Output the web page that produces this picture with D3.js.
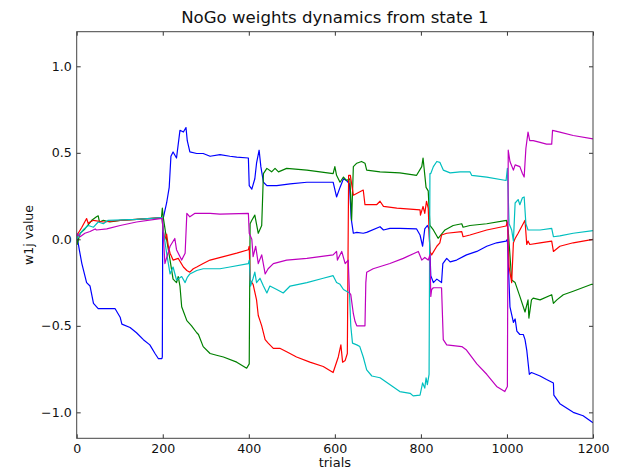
<!DOCTYPE html>
<html>
<head>
<meta charset="utf-8">
<script src="https://cdn.jsdelivr.net/npm/d3@7"></script>
<style>
  body { margin: 0; background: #fff; }
  text { font-family: "DejaVu Sans", sans-serif; }
</style>
</head>
<body>
<div id="my_dataviz"></div>
<script>

// tick values
var xTicks = [0, 200, 400, 600, 800, 1000, 1200];
var yTicks = [-1.0, -0.5, 0.0, 0.5, 1.0];

// series, [trial, w1j value]
var blue = [[0,0.03],[6,-0.06],[12,-0.14],[23,-0.25],[31,-0.27],[39,-0.37],[50,-0.40],[81,-0.40],[89,-0.40],[101,-0.45],[105,-0.49],[124,-0.51],[139,-0.54],[155,-0.58],[170,-0.61],[182,-0.66],[190,-0.69],[198,-0.69],[199,-0.68],[200,0.11],[209,0.21],[215,0.30],[219,0.48],[224,0.505],[232,0.47],[240,0.63],[248,0.62],[254,0.646],[257,0.57],[263,0.505],[279,0.496],[294,0.496],[310,0.48],[333,0.49],[356,0.48],[372,0.475],[399,0.47],[401,0.31],[407,0.29],[414,0.35],[418,0.44],[424,0.515],[428,0.42],[434,0.33],[442,0.31],[465,0.31],[496,0.32],[535,0.33],[596,0.33],[604,0.245],[612,0.30],[620,0.35],[627,0.34],[634,0.32],[638,0.12],[643,0.035],[651,0.04],[666,0.035],[674,0.04],[705,0.073],[713,0.054],[728,0.063],[751,0.063],[790,0.06],[798,0.025],[804,-0.04],[809,0.06],[815,0.08],[819,0.06],[823,-0.21],[829,-0.25],[837,-0.23],[848,-0.25],[851,-0.14],[860,-0.11],[868,-0.13],[883,-0.12],[906,-0.09],[930,-0.07],[953,-0.04],[976,-0.02],[998,-0.01],[1001,0.0],[1007,-0.39],[1015,-0.48],[1019,-0.46],[1023,-0.53],[1030,-0.55],[1038,-0.55],[1042,-0.58],[1046,-0.64],[1052,-0.78],[1057,-0.77],[1077,-0.79],[1092,-0.81],[1108,-0.83],[1109,-0.90],[1123,-0.95],[1154,-1.00],[1177,-1.02],[1200,-1.06]];

var green = [[0,0.0],[1,-0.03],[8,0.035],[19,0.06],[35,0.11],[46,0.13],[50,0.136],[53,0.10],[62,0.11],[77,0.10],[101,0.11],[139,0.115],[170,0.12],[197,0.125],[199,0.18],[201,0.13],[209,0.0],[217,-0.12],[224,-0.23],[232,-0.25],[236,-0.215],[240,-0.27],[244,-0.39],[256,-0.47],[267,-0.50],[279,-0.54],[283,-0.55],[294,-0.62],[310,-0.66],[325,-0.67],[341,-0.68],[372,-0.71],[395,-0.745],[401,-0.72],[403,0.09],[407,0.11],[414,0.14],[422,0.035],[430,0.08],[434,0.38],[442,0.41],[453,0.39],[461,0.41],[469,0.39],[488,0.41],[535,0.40],[596,0.38],[600,0.42],[604,0.37],[612,0.33],[620,0.36],[627,0.34],[635,0.35],[639,0.11],[643,0.42],[651,0.44],[662,0.45],[670,0.44],[674,0.40],[705,0.39],[751,0.384],[790,0.37],[802,0.42],[805,0.47],[812,0.30],[817,0.28],[821,0.08],[829,0.054],[840,0.006],[848,0.03],[856,0.054],[875,0.08],[895,0.09],[898,0.07],[914,0.08],[953,0.09],[999,0.11],[1003,0.05],[1011,-0.235],[1019,-0.25],[1030,-0.33],[1042,-0.42],[1049,-0.35],[1051,-0.455],[1057,-0.35],[1061,-0.34],[1077,-0.35],[1104,-0.32],[1108,-0.37],[1116,-0.35],[1131,-0.32],[1154,-0.30],[1197,-0.26],[1200,-0.26]];

var red = [[0,0.0],[1,0.025],[12,0.07],[23,0.12],[27,0.09],[31,0.10],[39,0.11],[62,0.10],[101,0.11],[139,0.115],[198,0.125],[201,0.054],[205,0.0],[209,0.03],[213,-0.04],[217,-0.08],[224,-0.12],[236,-0.11],[248,-0.16],[256,-0.18],[263,-0.19],[271,-0.17],[279,-0.16],[294,-0.14],[310,-0.12],[341,-0.10],[372,-0.08],[399,-0.06],[401,-0.04],[403,-0.235],[410,-0.26],[418,-0.35],[422,-0.44],[426,-0.47],[430,-0.50],[438,-0.58],[445,-0.60],[457,-0.63],[472,-0.63],[488,-0.65],[511,-0.68],[542,-0.71],[573,-0.735],[596,-0.77],[608,-0.68],[614,-0.61],[618,-0.71],[624,-0.70],[629,-0.66],[632,0.37],[636,0.37],[643,0.255],[666,0.285],[670,0.20],[697,0.20],[705,0.22],[713,0.19],[744,0.18],[798,0.17],[799,0.14],[805,0.19],[809,0.15],[813,0.22],[817,0.18],[821,-0.07],[825,-0.09],[837,-0.04],[844,-0.02],[848,0.025],[860,0.035],[895,0.044],[898,0.015],[914,0.025],[953,0.054],[998,0.077],[1001,0.10],[1005,-0.16],[1011,-0.25],[1015,-0.02],[1019,0.005],[1026,0.035],[1042,0.11],[1046,-0.03],[1049,-0.01],[1053,-0.03],[1077,-0.02],[1104,-0.01],[1108,-0.07],[1123,-0.04],[1154,-0.02],[1200,0.0]];

var cyan = [[0,0.0],[3,0.015],[15,0.055],[27,0.08],[39,0.07],[50,0.10],[62,0.09],[73,0.11],[139,0.115],[198,0.125],[201,0.054],[209,-0.08],[217,-0.20],[224,-0.16],[232,-0.235],[244,-0.215],[252,-0.25],[257,-0.22],[263,-0.20],[279,-0.18],[294,-0.17],[333,-0.17],[356,-0.16],[399,-0.14],[401,-0.12],[404,-0.27],[410,-0.225],[414,-0.19],[418,-0.25],[426,-0.225],[434,-0.27],[442,-0.31],[449,-0.27],[465,-0.29],[480,-0.31],[496,-0.27],[535,-0.25],[573,-0.225],[596,-0.21],[604,-0.25],[612,-0.26],[620,-0.29],[627,-0.30],[634,-0.31],[637,-0.50],[641,-0.60],[651,-0.61],[658,-0.62],[666,-0.68],[674,-0.755],[686,-0.79],[705,-0.80],[751,-0.88],[775,-0.89],[782,-0.905],[798,-0.90],[804,-0.83],[809,-0.86],[812,-0.80],[815,-0.84],[819,-0.78],[821,0.38],[823,0.38],[829,0.42],[837,0.45],[844,0.445],[852,0.40],[868,0.384],[891,0.39],[914,0.39],[918,0.37],[953,0.36],[998,0.34],[1001,0.41],[1005,0.09],[1011,0.054],[1015,-0.01],[1019,0.21],[1026,0.23],[1030,0.20],[1036,0.24],[1040,0.245],[1044,0.09],[1049,0.054],[1077,0.054],[1104,0.063],[1108,0.015],[1123,0.02],[1154,0.035],[1200,0.05]];

var magenta = [[0,0.02],[1,0.035],[8,0.015],[19,0.035],[31,0.045],[43,0.06],[46,0.054],[70,0.06],[101,0.08],[139,0.10],[194,0.12],[199,0.12],[205,-0.14],[217,-0.04],[228,0.005],[232,-0.06],[244,-0.12],[252,-0.08],[256,0.15],[263,0.13],[275,0.15],[310,0.15],[333,0.146],[399,0.15],[401,0.035],[407,0.0],[410,-0.10],[416,-0.04],[422,-0.14],[430,-0.09],[438,-0.20],[445,-0.17],[457,-0.14],[488,-0.12],[535,-0.11],[596,-0.09],[604,-0.07],[606,-0.12],[616,-0.07],[624,-0.14],[631,-0.12],[634,-0.31],[637,-0.32],[643,-0.43],[647,-0.475],[651,-0.50],[670,-0.50],[672,-0.25],[674,-0.19],[689,-0.17],[728,-0.14],[759,-0.11],[794,-0.07],[802,-0.12],[809,-0.105],[817,-0.12],[821,-0.09],[823,-0.33],[825,-0.29],[829,-0.28],[848,-0.28],[852,-0.58],[860,-0.61],[895,-0.62],[906,-0.64],[930,-0.72],[953,-0.78],[976,-0.85],[995,-0.88],[1001,-0.85],[1003,0.515],[1007,0.45],[1015,0.40],[1019,0.43],[1030,0.42],[1036,0.38],[1040,0.36],[1044,0.525],[1049,0.62],[1053,0.57],[1061,0.57],[1077,0.56],[1092,0.55],[1104,0.55],[1106,0.63],[1123,0.62],[1154,0.60],[1200,0.58]];

var series = [
  {name: "b", color: "#0000ff", values: blue},
  {name: "g", color: "#008000", values: green},
  {name: "r", color: "#ff0000", values: red},
  {name: "c", color: "#00bfbf", values: cyan},
  {name: "m", color: "#bf00bf", values: magenta}
];

// set the dimensions and margins of the graph
var margin = {top: 31.7, right: 32, bottom: 32.7, left: 76.7},
    width = 625 - margin.left - margin.right,
    height = 471 - margin.top - margin.bottom;

var svg = d3.select("#my_dataviz")
  .append("svg")
    .attr("width", 625)
    .attr("height", 471)
  .append("g")
    .attr("transform", "translate(" + margin.left + "," + margin.top + ")");

var x = d3.scaleLinear().domain([0, 1200]).range([0, width]);
var y = d3.scaleLinear().domain([-1.15, 1.2]).range([height, 0]);

// lines
var line = d3.line()
  .x(function(d) { return x(d[0]); })
  .y(function(d) { return y(d[1]); });

svg.append("defs").append("clipPath").attr("id", "clip")
  .append("rect").attr("width", width).attr("height", height);

svg.append("g").attr("clip-path", "url(#clip)")
  .selectAll("path")
  .data(series)
  .enter()
  .append("path")
    .attr("d", function(d) { return line(d.values); })
    .attr("fill", "none")
    .attr("stroke", function(d) { return d.color; })
    .attr("stroke-width", 1.2)
    .attr("stroke-linejoin", "round");

// axes, ticks pointing inward on all four sides
var fmtY = d3.format(".1f");
var fmtX = d3.format("d");

svg.append("g")
  .attr("transform", "translate(0," + height + ")")
  .call(d3.axisBottom(x).tickValues(xTicks).tickSizeInner(-4).tickSizeOuter(0).tickPadding(6).tickFormat(fmtX));
svg.append("g")
  .call(d3.axisTop(x).tickValues(xTicks).tickSizeInner(-4).tickSizeOuter(0).tickFormat(""));
svg.append("g")
  .call(d3.axisLeft(y).tickValues(yTicks).tickSizeInner(-4).tickSizeOuter(0).tickPadding(5).tickFormat(fmtY));
svg.append("g")
  .attr("transform", "translate(" + width + ",0)")
  .call(d3.axisRight(y).tickValues(yTicks).tickSizeInner(-4).tickSizeOuter(0).tickFormat(""));

svg.selectAll(".domain").remove();
svg.selectAll(".tick line").attr("stroke", "#333");
svg.selectAll(".tick text").attr("font-size", 12.6).attr("fill", "#111")
  .attr("font-family", "DejaVu Sans, sans-serif");

svg.append("rect")
  .attr("width", width)
  .attr("height", height)
  .attr("fill", "none")
  .attr("stroke", "#444")
  .attr("stroke-width", 1);

// title and labels
svg.append("text")
  .attr("x", width / 2)
  .attr("y", -9)
  .attr("text-anchor", "middle")
  .attr("font-size", 16.6)
  .attr("fill", "#111")
  .text("NoGo weights dynamics from state 1");

svg.append("text")
  .attr("x", width / 2)
  .attr("y", height + 28.5)
  .attr("text-anchor", "middle")
  .attr("font-size", 13)
  .attr("fill", "#111")
  .text("trials");

svg.append("text")
  .attr("transform", "translate(" + (-43.5) + "," + (height / 2) + ") rotate(-90)")
  .attr("text-anchor", "middle")
  .attr("font-size", 12.6)
  .attr("fill", "#111")
  .text("w1j value");

</script>
</body>
</html>
